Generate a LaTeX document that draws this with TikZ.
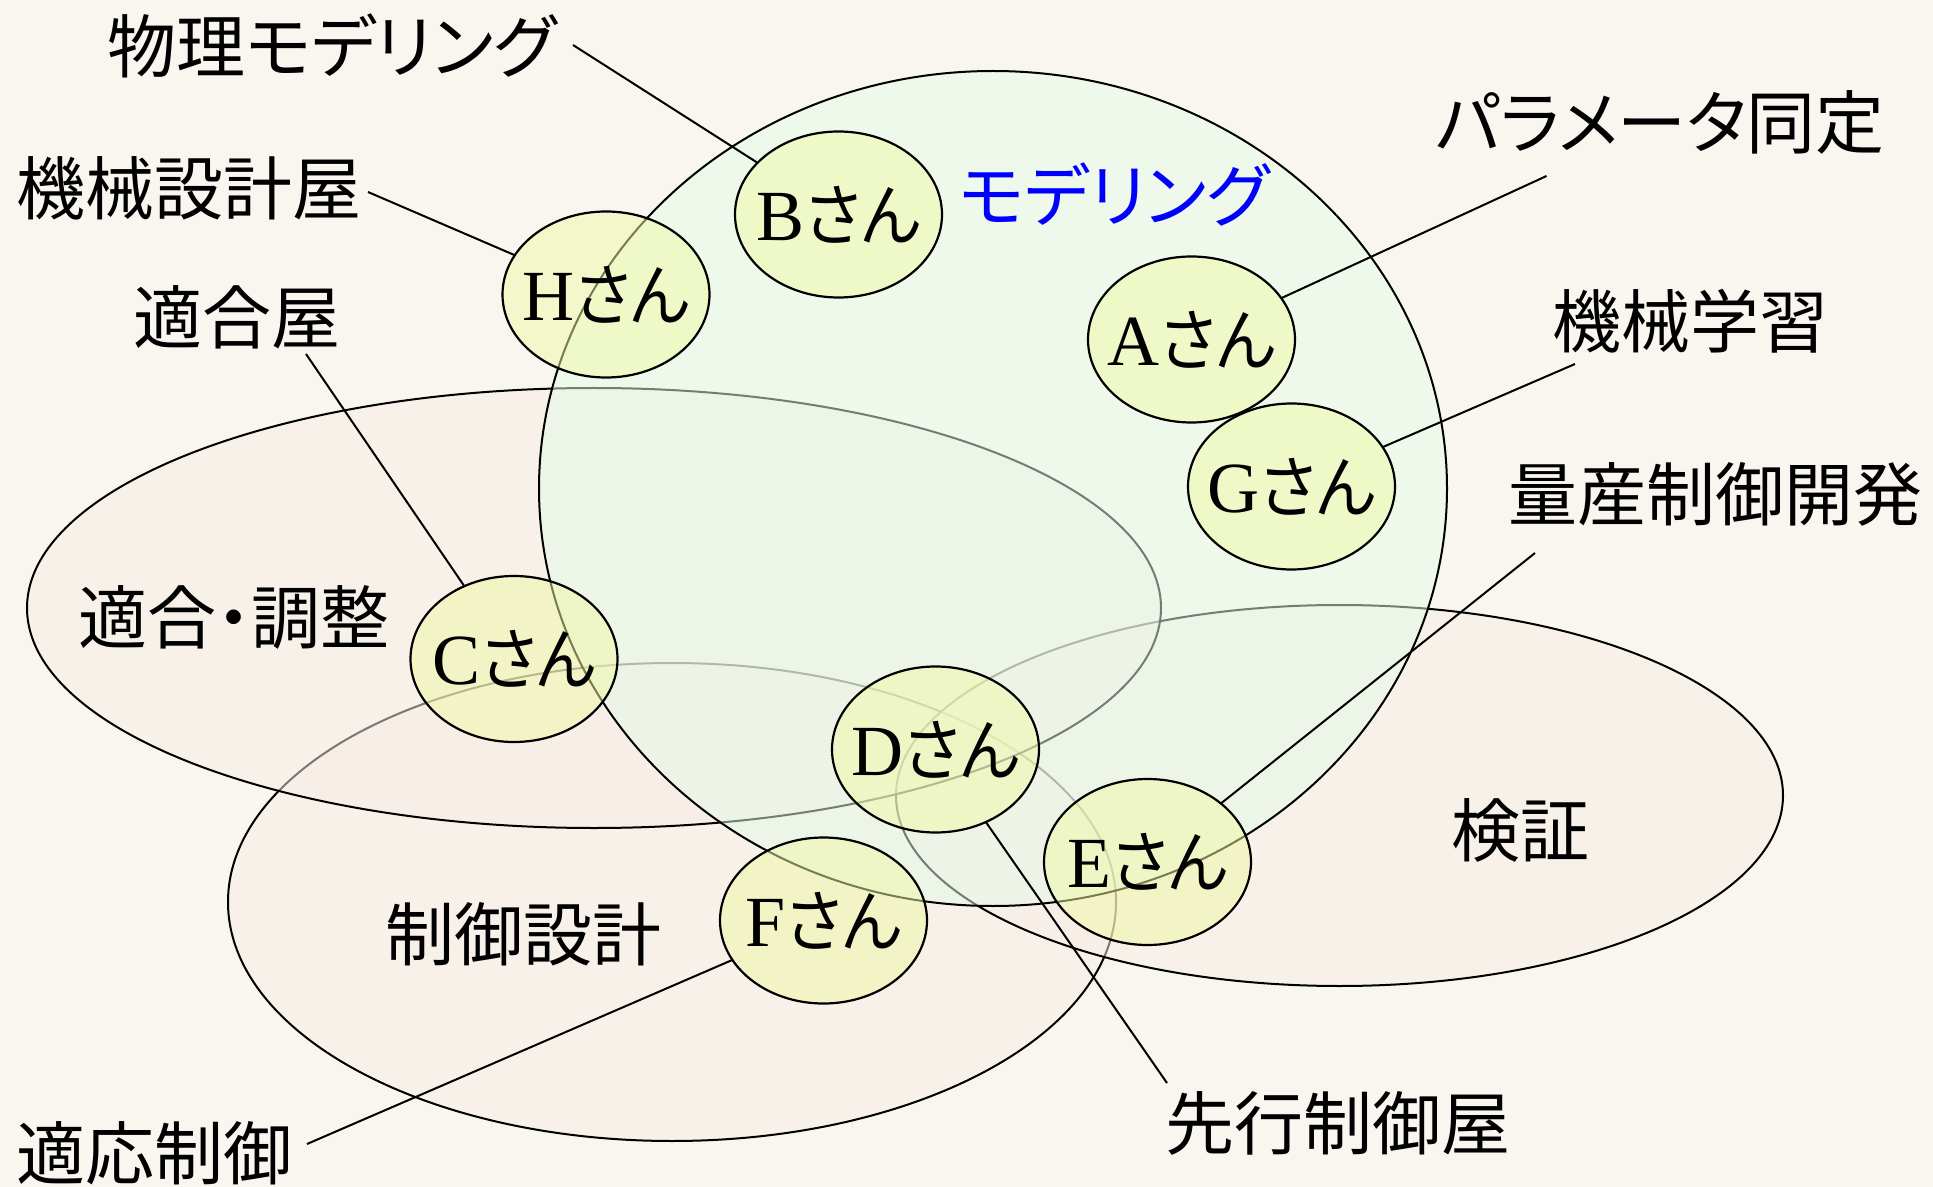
\documentclass[tikz,border=0pt]{standalone}
\usepackage{fontspec}
\setmainfont{Liberation Serif}
\newfontfamily\jp{Noto Sans CJK JP}[RawFeature=+palt]
\usetikzlibrary{shapes.geometric}
\definecolor{bgc}{RGB}{249,246,240}
\definecolor{regc}{RGB}{247,238,230}
\definecolor{modc}{RGB}{229,250,232}
\definecolor{perc}{RGB}{241,248,164}
\definecolor{bluec}{RGB}{0,0,255}
\newcommand\pname[1]{{\fontsize{36}{36}\selectfont #1}{\jp\fontsize{34}{34}\selectfont\scalebox{0.93}[1]{さん}}}
\begin{document}
\begin{tikzpicture}[x=0.5pt,y=-0.5pt,
  region/.style={shape=ellipse, draw=black, line width=1pt, fill=regc, fill opacity=0.5, inner sep=0pt, outer sep=0pt},
  modregion/.style={region, fill=modc},
  person/.style={shape=ellipse, draw=black, line width=1.1pt, fill=perc, fill opacity=0.5, inner sep=0pt, outer sep=0pt, minimum width=103.5pt, minimum height=83pt},
  ptext/.style={inner sep=0pt},
  lab/.style={inner sep=0pt, font=\jp\fontsize{34.5}{34.5}\selectfont},
  conn/.style={draw=black, line width=1pt}]
\useasboundingbox (0,0) rectangle (1933,1187);
\fill[bgc] (0,0) rectangle (1933,1187);
% regions
\node[region, minimum width=444pt, minimum height=239pt] (ctrl) at (672,902) {};
\node[region, minimum width=443.5pt, minimum height=190.5pt] (verif) at (1339.5,795.5) {};
\node[region, minimum width=567pt, minimum height=220pt] (tune) at (594,608) {};
\node[modregion, minimum width=454pt, minimum height=417.5pt] (model) at (993,488.5) {};
% persons
\node[person] (B) at (838.5,214.5) {};
\node[person] (H) at (606,294.5) {};
\node[person] (A) at (1191.5,339.5) {};
\node[person] (G) at (1291.5,486.5) {};
\node[person] (C) at (514,659) {};
\node[person] (D) at (935.5,749.5) {};
\node[person] (E) at (1147.5,862) {};
\node[person] (F) at (823.5,920.5) {};
\node[ptext] (Bt) at (B) {\pname{B}};
\node[ptext] (Ht) at (H) {\pname{H}};
\node[ptext] (At) at (A) {\pname{A}};
\node[ptext] (Gt) at (G) {\pname{G}};
\node[ptext] (Ct) at (C) {\pname{C}};
\node[ptext] (Dt) at (D) {\pname{D}};
\node[ptext] (Et) at (E) {\pname{E}};
\node[ptext] (Ft) at (F) {\pname{F}};
% region labels
\node[lab, text=bluec] (lmod) at (1114,194.5) {モデリング};
\node[lab] (ltune) at (234,617) {適合・調整};
\node[lab] (lctrl) at (523,934) {制御設計};
\node[lab] (lverif) at (1520,830) {検証};
% role labels
\node[lab] (l1) at (332,46) {物理モデリング};
\node[lab] (l2) at (189.5,188.5) {機械設計屋};
\node[lab] (l3) at (237,317) {適合屋};
\node[lab] (l4) at (1660,122.5) {パラメータ同定};
\node[lab] (l5) at (1690,321.5) {機械学習};
\node[lab] (l6) at (1715,494) {量産制御開発};
\node[lab] (l7) at (1337.5,1123) {先行制御屋};
\node[lab] (l8) at (155,1153.5) {適応制御};
% connector ends
\coordinate (p1) at (573,45);
\coordinate (p2) at (368,192);
\coordinate (p3) at (306,354);
\coordinate (p4) at (1546.5,176);
\coordinate (p5) at (1575,364);
\coordinate (p6) at (1535,553);
\coordinate (p7) at (1167,1083);
\coordinate (p8) at (307,1144);
\draw[conn] (p1) -- (B);
\draw[conn] (p2) -- (H);
\draw[conn] (p3) -- (C);
\draw[conn] (p4) -- (A);
\draw[conn] (p5) -- (G);
\draw[conn] (p6) -- (E);
\draw[conn] (p7) -- (D);
\draw[conn] (p8) -- (F);
\end{tikzpicture}
\end{document}
